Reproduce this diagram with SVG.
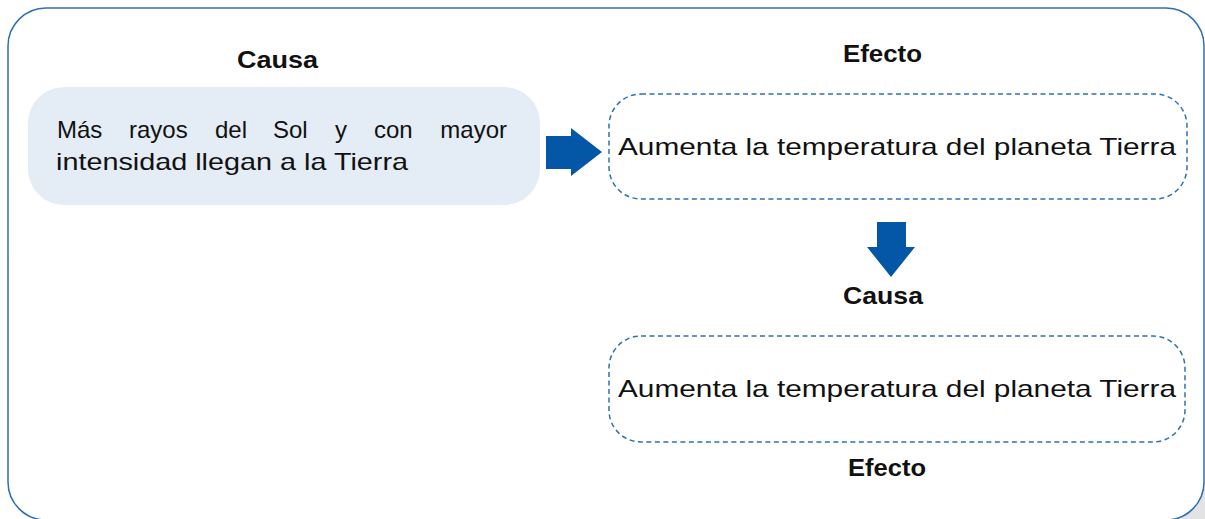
<svg xmlns="http://www.w3.org/2000/svg" width="1205" height="519" viewBox="0 0 1205 519">
<style>
.t{font-family:"Liberation Sans",Arial,sans-serif;fill:#111;font-size:24px;}
.h{font-family:"Liberation Sans",Arial,sans-serif;font-weight:bold;font-size:24px;fill:#111;}
.dash{fill:#fff;stroke:#2e6fb6;stroke-width:1.5;stroke-dasharray:5 3.5;}
.arr{fill:#0457a6;}
</style>
<rect width="1205" height="519" fill="#fff"/>
<polygon points="1175,519 1205,480 1205,519" fill="#e3e3e3"/>
<rect id="frame" x="8" y="8" width="1196" height="512" rx="38" ry="38" fill="#fff" stroke="#2e6fb6" stroke-width="1.5"/>
<g id="label-causa-1"><text class="h" x="237" y="68" textLength="81" lengthAdjust="spacingAndGlyphs">Causa</text></g>
<g id="label-efecto-1"><text class="h" x="843" y="62" textLength="79" lengthAdjust="spacingAndGlyphs">Efecto</text></g>
<g id="cause-box">
<rect x="28" y="87" width="512" height="118" rx="36" ry="36" fill="#e4ecf5"/>
<text class="t" x="57" y="138">Más</text>
<text class="t" x="129" y="138">rayos</text>
<text class="t" x="215" y="138">del</text>
<text class="t" x="273" y="138">Sol</text>
<text class="t" x="335" y="138">y</text>
<text class="t" x="374" y="138">con</text>
<text class="t" x="507" y="138" text-anchor="end">mayor</text>
<text class="t" x="56" y="170" textLength="352" lengthAdjust="spacingAndGlyphs">intensidad llegan a la Tierra</text>
</g>
<g id="effect-box-1">
<rect class="dash" x="609" y="94" width="578" height="105" rx="32" ry="32"/>
<text class="t" x="618" y="155" textLength="558" lengthAdjust="spacingAndGlyphs">Aumenta la temperatura del planeta Tierra</text>
</g>
<g id="label-causa-2"><text class="h" x="843" y="304" textLength="80" lengthAdjust="spacingAndGlyphs">Causa</text></g>
<g id="effect-box-2">
<rect class="dash" x="609" y="336" width="576" height="106" rx="32" ry="32"/>
<text class="t" x="618" y="397" textLength="558" lengthAdjust="spacingAndGlyphs">Aumenta la temperatura del planeta Tierra</text>
</g>
<g id="label-efecto-2"><text class="h" x="848" y="476" textLength="78" lengthAdjust="spacingAndGlyphs">Efecto</text></g>
<g id="connectors">
<polygon class="arr" points="546,136 571,136 571,128 602,152 571,176 571,169 546,169"/>
<polygon class="arr" points="877,222 906,222 906,247 915,247 891,277 867,247 877,247"/>
</g>
</svg>
